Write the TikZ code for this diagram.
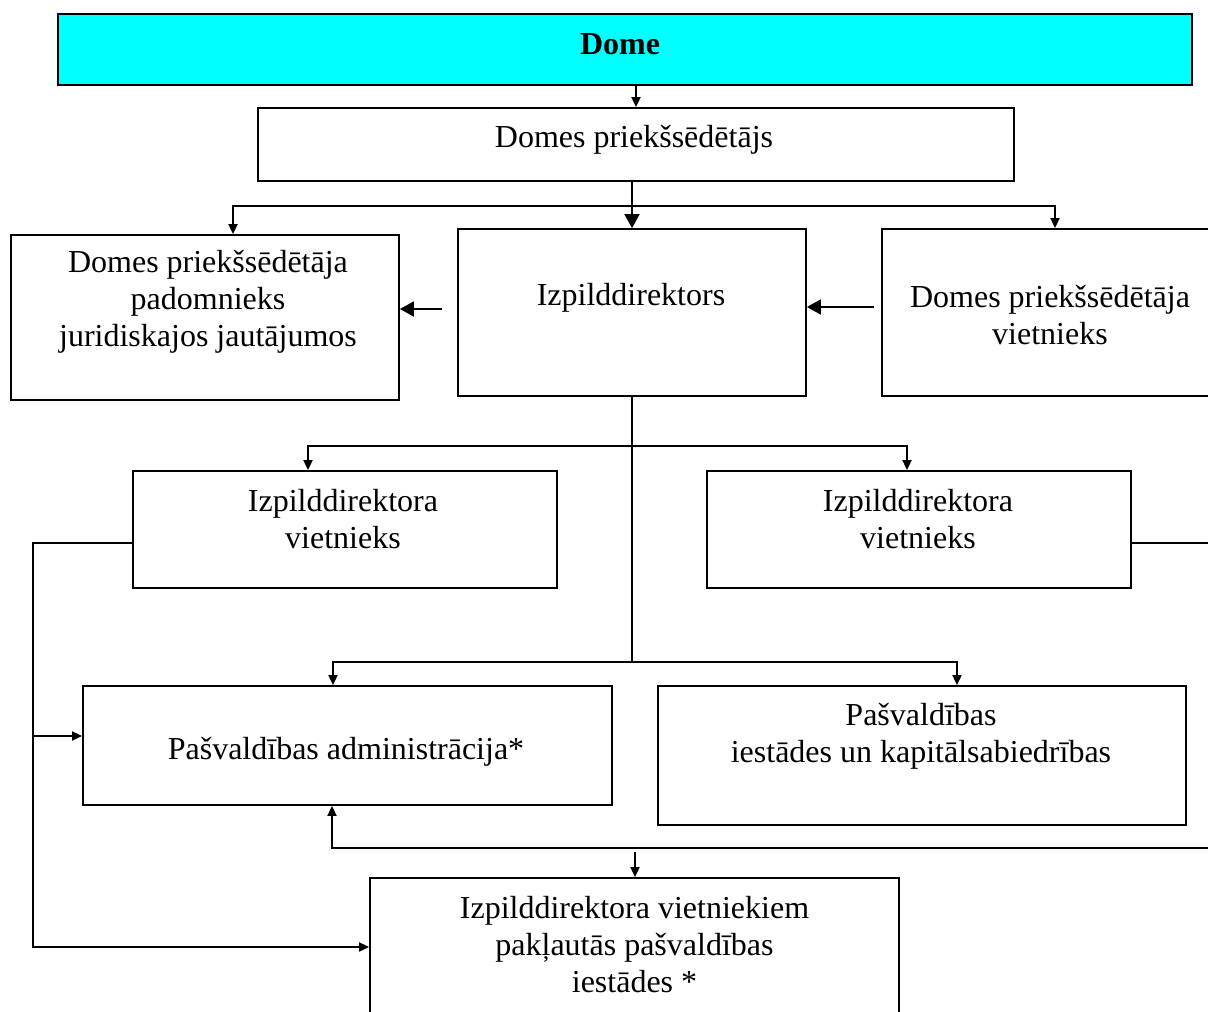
\documentclass[tikz,border=0pt]{standalone}
\usepackage{fontspec}
\setmainfont{Liberation Serif}
\usetikzlibrary{arrows.meta,calc}
\definecolor{domecyan}{RGB}{0,255,255}

\begin{document}
\begin{tikzpicture}[x=1pt,y=1pt,
  box/.style={draw,line width=1.8pt,inner sep=0pt},
  txt/.style={font=\fontsize{32}{37}\selectfont,align=center,inner sep=0pt},
  sarr/.style={line width=1.8pt,-{Triangle[length=10pt,width=9pt]}},
  barr/.style={line width=1.8pt,-{Triangle[length=14pt,width=15pt]}},
  con/.style={line width=1.8pt}]
  \useasboundingbox (0,0) rectangle (1208,-1012);
  \clip (0,0) rectangle (1208,-1012);
  \node[box,fill=domecyan,minimum width=1134pt,minimum height=71pt] (dome) at (625,-49.5) {};
  \node[box,minimum width=756pt,minimum height=73pt] (prs) at (636,-144.5) {};
  \node[box,minimum width=388pt,minimum height=165pt] (adv) at (205,-317.5) {};
  \node[box,minimum width=348pt,minimum height=167pt] (izp) at (632,-312.5) {};
  \node[box,minimum width=336pt,minimum height=167pt] (vic) at (1050,-312.5) {};
  \node[box,minimum width=424pt,minimum height=117pt] (vdl) at (345,-529.5) {};
  \node[box,minimum width=424pt,minimum height=117pt] (vdr) at (919,-529.5) {};
  \node[box,minimum width=529pt,minimum height=119pt] (adm) at (347.5,-745.5) {};
  \node[box,minimum width=528pt,minimum height=139pt] (inst) at (922,-755.5) {};
  \node[box,minimum width=529pt,minimum height=150pt] (bot) at (634.5,-953) {};
  \node[txt] (domeT) at (620,-44) {\bfseries Dome};
  \node[txt] (prsT) at (634,-140) {Domes priekšsēdētājs};
  \node[txt] (advT) at (208,-302) {Domes priekšsēdētāja\\padomnieks\\juridiskajos jautājumos};
  \node[txt] (izpT) at (631,-298) {Izpilddirektors};
  \node[txt] (vicT) at (1050,-315) {Domes priekšsēdētāja\\vietnieks};
  \node[txt] (vdlT) at (343,-519) {Izpilddirektora\\vietnieks};
  \node[txt] (vdrT) at (918,-519) {Izpilddirektora\\vietnieks};
  \node[txt] (admT) at (346,-752) {Pašvaldības administrācija*};
  \node[txt] (instT) at (921,-736) {Pašvaldības\\iestādes un kapitālsabiedrības};
  \node[txt] (botT) at (634.5,-945) {Izpilddirektora vietniekiem\\pakļautās pašvaldības\\iestādes *};
  % top links
  \draw[sarr] (prs.north |- dome.south) -- (prs.north);
  \draw[barr] (izp.north |- prs.south) -- (izp.north);
  \coordinate (jT) at (632,-206);
  \draw[sarr] (jT) -| ($(adv.north)+(28,0)$);
  \draw[sarr] (jT) -| ($(vic.north)+(5,0)$);
  \draw[barr] ($(izp.west)+(-15,3.5)$) -- ($(adv.east |- izp.west)+(0,3.5)$);
  \draw[barr] ($(vic.west)+(-7,5.5)$) -- ($(izp.east |- vic.west)+(0,5.5)$);
  % middle links
  \coordinate (jM) at (632,-446);
  \coordinate (jB) at (632,-662);
  \draw[con] (izp.south) -- (jB);
  \draw[sarr] (jM) -| ($(vdl.north)+(-37,0)$);
  \draw[sarr] (jM) -| ($(vdr.north)+(-12,0)$);
  \draw[sarr] (jB) -| ($(adm.north)+(-14.5,0)$);
  \draw[sarr] (jB) -| ($(inst.north)+(35,0)$);
  % side links
  \coordinate (lb) at (33,-947);
  \coordinate (admIn) at ($(adm.west)+(0,9.5)$);
  \draw[sarr] ($(vdl.west)+(0,-13.5)$) -| (lb) -- (lb -| bot.west);
  \draw[sarr] (lb |- admIn) -- (admIn);
  \coordinate (rE) at (1215,-543);
  \coordinate (rB) at (1215,-848);
  \draw[con] ($(vdr.east)+(0,-13.5)$) -- (rE);
  \draw[sarr] (rB) -| ($(adm.south)+(-15.5,0)$);
  \draw[sarr] ($(bot.north)+(0.5,25)$) -- ($(bot.north)+(0.5,0)$);
\end{tikzpicture}
\end{document}
